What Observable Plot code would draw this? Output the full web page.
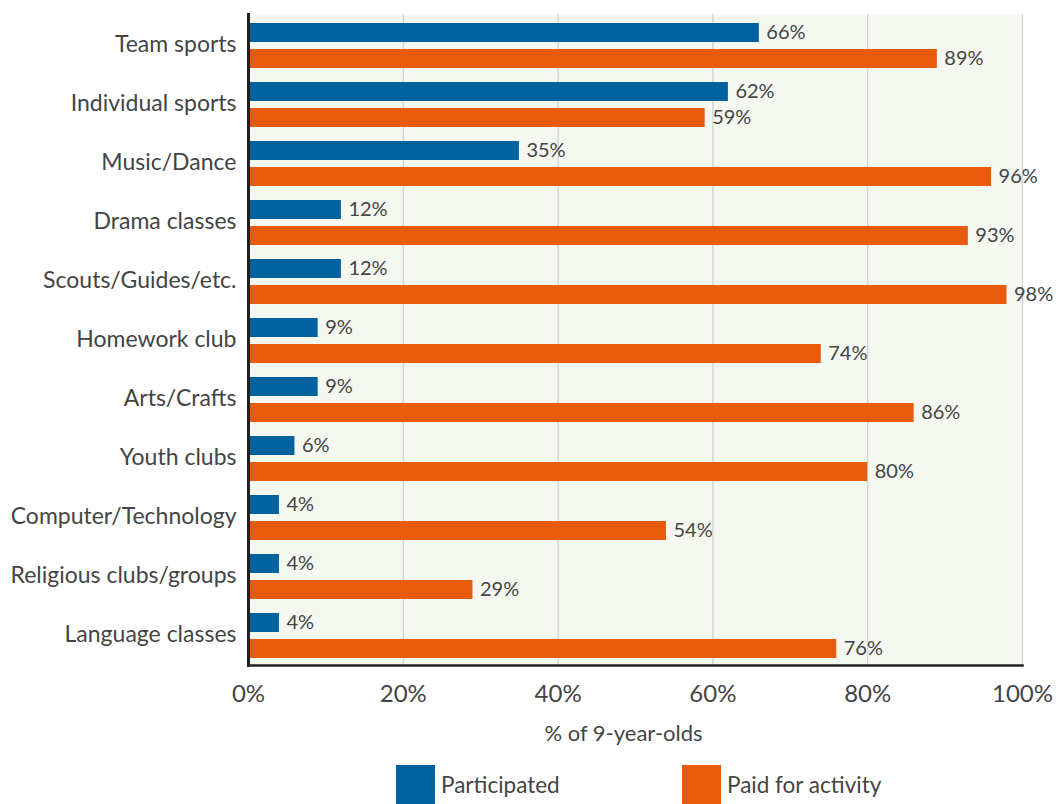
<!DOCTYPE html>
<html>
<head>
<meta charset="utf-8">
<script src="https://cdn.jsdelivr.net/npm/d3@7"></script>
<script src="https://cdn.jsdelivr.net/npm/@observablehq/plot@0.6"></script>
<style>
  html, body { margin: 0; padding: 0; background: #fff; }
  #wrap { position: relative; width: 1056px; height: 804px; overflow: hidden; font-family: Lato, "Open Sans", sans-serif; }
  #chart { position: absolute; left: 0; top: 0; }
  .leg { position: absolute; display: flex; align-items: center; font-size: 22.5px; color: #444; }
  .sw { width: 39px; height: 39px; margin-right: 6px; }
</style>
</head>
<body>
<div id="wrap">
  <div id="chart"></div>
  <div class="leg" style="left:396px; top:765px;"><div class="sw" style="background:#00629f"></div><span>Participated</span></div>
  <div class="leg" style="left:682px; top:765px;"><div class="sw" style="background:#e85a0c"></div><span>Paid for activity</span></div>
</div>
<script>
const categories = ["Team sports", "Individual sports", "Music/Dance", "Drama classes", "Scouts/Guides/etc.", "Homework club", "Arts/Crafts", "Youth clubs", "Computer/Technology", "Religious clubs/groups", "Language classes"];
const participated = [66, 62, 35, 12, 12, 9, 9, 6, 4, 4, 4];
const paidForActivity = [89, 59, 96, 93, 98, 74, 86, 80, 54, 29, 76];
const xTicks = [0, 20, 40, 60, 80, 100];
const seriesNames = ["Participated", "Paid for activity"];
const seriesColors = ["#00629f", "#e85a0c"];

const blue = categories.map((c, i) => ({category: c, series: seriesNames[0], value: participated[i]}));
const orange = categories.map((c, i) => ({category: c, series: seriesNames[1], value: paidForActivity[i]}));

const plot = Plot.plot({
  width: 1056,
  height: 750,
  marginLeft: 248,
  marginRight: 34,
  marginTop: 14,
  marginBottom: 85,
  style: {fontFamily: "Lato, 'Open Sans', sans-serif", color: "#444", background: "transparent", overflow: "visible"},
  x: {domain: [0, 100]},
  y: {domain: categories, padding: 0},
  marks: [
    Plot.frame({fill: "#f5f8f1", stroke: null}),
    Plot.gridX(xTicks.slice(1), {stroke: "#cfcfcf", strokeOpacity: 1, strokeWidth: 1.2}),
    Plot.barX(blue, {x: "value", y: "category", fill: seriesColors[0], insetTop: 8, insetBottom: 32}),
    Plot.barX(orange, {x: "value", y: "category", fill: seriesColors[1], insetTop: 34, insetBottom: 6}),
    Plot.text(blue, {x: "value", y: "category", text: d => d.value + "%", textAnchor: "start", dx: 7, dy: -12, fontSize: 20, fill: "#444"}),
    Plot.text(orange, {x: "value", y: "category", text: d => d.value + "%", textAnchor: "start", dx: 7, dy: 14, fontSize: 20, fill: "#444"}),
    Plot.axisY({tickSize: 0, tickPadding: 12, fontSize: 23, label: null, fill: "#444"}),
    Plot.axisX({ticks: xTicks, tickSize: 0, tickPadding: 19, tickFormat: d => d + "%", fontSize: 24, label: null, fill: "#444"}),
    Plot.frame({anchor: "bottom", stroke: "#222", strokeWidth: 2.5}),
    Plot.frame({anchor: "left", stroke: "#222", strokeWidth: 3}),
    Plot.text(["% of 9-year-olds"], {frameAnchor: "bottom", dy: 75, dx: -12, lineAnchor: "bottom", fontSize: 22, fill: "#444"})
  ]
});
document.getElementById("chart").appendChild(plot);
</script>
</body>
</html>
